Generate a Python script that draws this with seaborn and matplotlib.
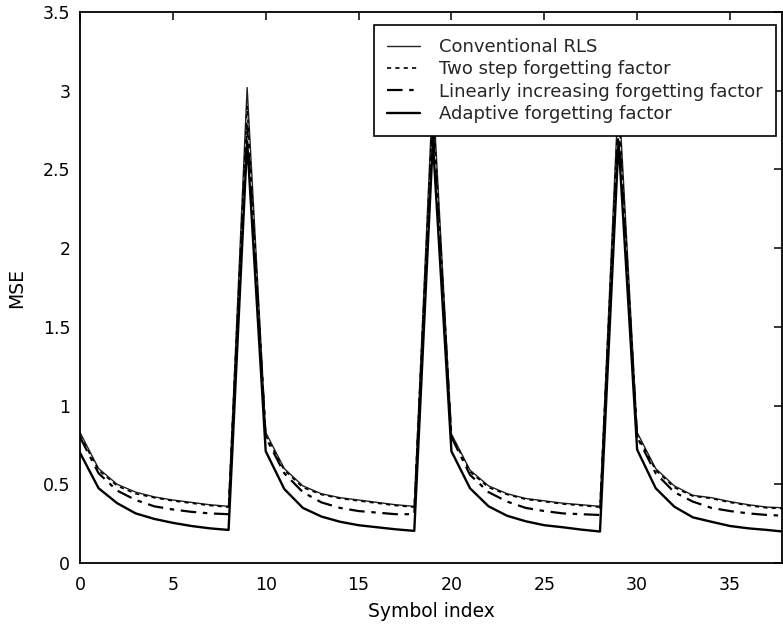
import numpy as np
import pandas as pd
import matplotlib
matplotlib.use("Agg")
import matplotlib.pyplot as plt
import seaborn as sns

# ---- data ----
symbol_index = list(range(40))

conventional_rls = [0.83, 0.60, 0.50, 0.45, 0.42, 0.40, 0.385, 0.37, 0.36, 3.02,
                    0.83, 0.60, 0.49, 0.44, 0.415, 0.40, 0.385, 0.37, 0.36, 3.00,
                    0.82, 0.59, 0.49, 0.44, 0.41, 0.395, 0.38, 0.37, 0.36, 3.00,
                    0.83, 0.60, 0.49, 0.43, 0.415, 0.39, 0.37, 0.355, 0.35, 0.345]

two_step = [0.81, 0.59, 0.49, 0.44, 0.415, 0.395, 0.38, 0.365, 0.355, 2.90,
            0.81, 0.59, 0.48, 0.435, 0.41, 0.395, 0.38, 0.365, 0.355, 2.90,
            0.81, 0.58, 0.48, 0.435, 0.405, 0.39, 0.375, 0.365, 0.355, 2.90,
            0.81, 0.59, 0.48, 0.425, 0.41, 0.385, 0.365, 0.35, 0.345, 0.34]

linear_increasing = [0.80, 0.57, 0.46, 0.40, 0.36, 0.34, 0.325, 0.315, 0.31, 2.78,
                     0.80, 0.57, 0.45, 0.385, 0.35, 0.33, 0.32, 0.31, 0.31, 2.78,
                     0.80, 0.56, 0.45, 0.39, 0.35, 0.33, 0.315, 0.31, 0.305, 2.78,
                     0.80, 0.57, 0.45, 0.39, 0.35, 0.33, 0.315, 0.305, 0.30, 0.30]

adaptive = [0.70, 0.475, 0.38, 0.315, 0.28, 0.255, 0.235, 0.22, 0.21, 2.68,
            0.71, 0.47, 0.35, 0.295, 0.262, 0.24, 0.227, 0.214, 0.204, 2.68,
            0.71, 0.475, 0.36, 0.30, 0.265, 0.24, 0.227, 0.212, 0.20, 2.68,
            0.72, 0.475, 0.358, 0.29, 0.262, 0.235, 0.22, 0.21, 0.198, 0.19]

series_names = ["Conventional RLS", "Two step forgetting factor",
                "Linearly increasing forgetting factor", "Adaptive forgetting factor"]
series_values = [conventional_rls, two_step, linear_increasing, adaptive]

x_ticks = [0, 5, 10, 15, 20, 25, 30, 35]
y_ticks = [0, 0.5, 1, 1.5, 2, 2.5, 3, 3.5]
y_tick_labels = ["0", "0.5", "1", "1.5", "2", "2.5", "3", "3.5"]

# ---- styling ----
sns.set_theme(style="white")
plt.rcParams["font.family"] = ["DejaVu Sans"]

fig = plt.figure(figsize=(7.83, 6.26), dpi=100)
W, H = 783, 626
left_px, right_px, top_px, bottom_px = 80, 782, 12, 563
ax = fig.add_axes([left_px / W, 1 - bottom_px / H,
                   (right_px - left_px) / W, (bottom_px - top_px) / H])
ax.set_facecolor("white")

styles = [
    dict(color="#222222", lw=1.0, linestyle="-"),
    dict(color="black", lw=1.2, linestyle=(0, (2.5, 2.5))),
    dict(color="black", lw=1.6, linestyle=(0, (7, 3, 2, 3))),
    dict(color="black", lw=1.7, linestyle="-"),
]

for name, vals, st in zip(series_names, series_values, styles):
    df = pd.DataFrame({"Symbol index": symbol_index, "MSE": vals})
    sns.lineplot(data=df, x="Symbol index", y="MSE", ax=ax, label=name,
                 color=st["color"], linewidth=st["lw"], linestyle=st["linestyle"],
                 errorbar=None)

ax.set_xlim(0, (right_px - left_px) / 18.571)
ax.set_ylim(0, 3.5)
ax.set_xticks(x_ticks)
ax.set_xticklabels([str(t) for t in x_ticks])
ax.set_yticks(y_ticks)
ax.set_yticklabels(y_tick_labels)

ax.tick_params(direction="in", length=6, width=1.1, top=True, right=True,
               labelsize=12.5, colors="black", pad=7)
ax.tick_params(axis="x", pad=9)
for sp in ax.spines.values():
    sp.set_visible(True)
    sp.set_color("black")
    sp.set_linewidth(1.3)

ax.set_xlabel("Symbol index", fontsize=13.5, color="black", labelpad=6)
ax.set_ylabel("MSE", fontsize=13.5, color="black", labelpad=12)

leg = ax.legend(loc="upper right",
                bbox_to_anchor=((776 - left_px) / (right_px - left_px),
                                (bottom_px - 25) / (bottom_px - top_px)),
                borderaxespad=0, fontsize=13.0, frameon=True, fancybox=False,
                framealpha=1, edgecolor="black", handlelength=1.85,
                handletextpad=1.05, labelspacing=0.24, borderpad=0.72)
leg.get_frame().set_linewidth(1.2)

fig.savefig("out.png", dpi=100)
